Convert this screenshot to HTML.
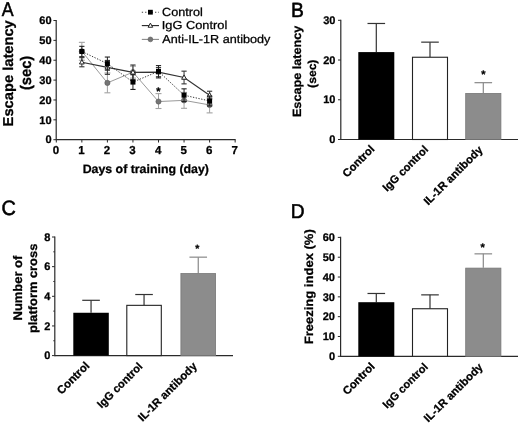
<!DOCTYPE html>
<html><head><meta charset="utf-8"><style>
html,body{margin:0;padding:0;background:#fff;}
svg{display:block;filter:blur(0.3px);}
text{font-family:"Liberation Sans", sans-serif;text-rendering:geometricPrecision;stroke:#000;stroke-width:0.28px;stroke-linejoin:round}
</style></head><body>
<svg width="520" height="424" viewBox="0 0 520 424">
<rect width="520" height="424" fill="#fff"/>
<text transform="translate(1.7,15.6) scale(0.8889,0.9964)" font-size="20" font-weight="normal" style="stroke-width:0.55px">A</text>
<text transform="translate(291.05,16.5) scale(0.9636,1.0255)" font-size="20" font-weight="normal" style="stroke-width:0.55px">B</text>
<text transform="translate(1.6,214.94) scale(0.9961,1.0386)" font-size="20" font-weight="normal" style="stroke-width:0.55px">C</text>
<text transform="translate(290.86,218.2) scale(0.9583,1.0036)" font-size="20" font-weight="normal" style="stroke-width:0.55px">D</text>
<text transform="translate(13.07,126.38) scale(0.9559,0.9795) rotate(-90)" font-size="15" font-weight="bold">Escape latency</text>
<text transform="translate(30.98,90.03) scale(1.0191,0.9791) rotate(-90)" font-size="15" font-weight="bold">(sec)</text>
<text transform="translate(82.63,172.69) scale(1.0296,1.0047)" font-size="12" font-weight="bold">Days of training (day)</text>
<text transform="translate(162.09,15.56) scale(1.0103,0.9474)" font-size="12.5" font-weight="normal">Control</text>
<text transform="translate(161.78,29.29) scale(1.0249,0.9275)" font-size="12.5" font-weight="normal">IgG Control</text>
<text transform="translate(162.3,42.79) scale(1.0103,0.9275)" font-size="12.5" font-weight="normal">Anti-IL-1R antibody</text>
<text transform="translate(300.82,117.09) scale(0.9955,1.0547) rotate(-90)" font-size="12" font-weight="bold">Escape latency</text>
<text transform="translate(316.01,87.91) scale(0.9586,1.0111) rotate(-90)" font-size="12" font-weight="bold">(sec)</text>
<text transform="translate(21.66,320.41) scale(1.0364,1.079) rotate(-90)" font-size="12" font-weight="bold">Number of</text>
<text transform="translate(37.09,333.1) scale(1.0047,1.0723) rotate(-90)" font-size="12" font-weight="bold">platform cross</text>
<text transform="translate(313.39,344.31) scale(1.0047,1.0854) rotate(-90)" font-size="12" font-weight="bold">Freezing index (%)</text>
<text transform="translate(347.07,177.89) scale(1.0153,1.0153) rotate(-45)" font-size="11" font-weight="bold">Control</text>
<text transform="translate(387.11,192.07) scale(1.0103,1.0103) rotate(-45)" font-size="11" font-weight="bold">IgG control</text>
<text transform="translate(428.14,205.73) scale(1.0224,1.0224) rotate(-45)" font-size="11" font-weight="bold">IL-1R antibody</text>
<text transform="translate(61.54,395.02) scale(1.0346,1.0346) rotate(-45)" font-size="11" font-weight="bold">Control</text>
<text transform="translate(101.54,408.82) scale(1.006,1.006) rotate(-45)" font-size="11" font-weight="bold">IgG control</text>
<text transform="translate(142.46,422.06) scale(1.0215,1.0215) rotate(-45)" font-size="11" font-weight="bold">IL-1R antibody</text>
<text transform="translate(347.14,395.55) scale(1.0217,1.0217) rotate(-45)" font-size="11" font-weight="bold">Control</text>
<text transform="translate(387.04,409.04) scale(1.0006,1.0006) rotate(-45)" font-size="11" font-weight="bold">IgG control</text>
<text transform="translate(428.37,422.78) scale(1.0189,1.0189) rotate(-45)" font-size="11" font-weight="bold">IL-1R antibody</text>
<line x1="56.20" y1="19.90" x2="56.20" y2="140.30" stroke="#2a2a2a" stroke-width="1.2" />
<line x1="53.40" y1="139.70" x2="56.20" y2="139.70" stroke="#2a2a2a" stroke-width="1.0" />
<text x="51.60" y="143.40" font-size="11" font-weight="bold" text-anchor="end" fill="#000">0</text>
<line x1="53.40" y1="119.83" x2="56.20" y2="119.83" stroke="#2a2a2a" stroke-width="1.0" />
<text x="51.60" y="123.53" font-size="11" font-weight="bold" text-anchor="end" fill="#000">10</text>
<line x1="53.40" y1="99.97" x2="56.20" y2="99.97" stroke="#2a2a2a" stroke-width="1.0" />
<text x="51.60" y="103.67" font-size="11" font-weight="bold" text-anchor="end" fill="#000">20</text>
<line x1="53.40" y1="80.10" x2="56.20" y2="80.10" stroke="#2a2a2a" stroke-width="1.0" />
<text x="51.60" y="83.80" font-size="11" font-weight="bold" text-anchor="end" fill="#000">30</text>
<line x1="53.40" y1="60.23" x2="56.20" y2="60.23" stroke="#2a2a2a" stroke-width="1.0" />
<text x="51.60" y="63.93" font-size="11" font-weight="bold" text-anchor="end" fill="#000">40</text>
<line x1="53.40" y1="40.37" x2="56.20" y2="40.37" stroke="#2a2a2a" stroke-width="1.0" />
<text x="51.60" y="44.07" font-size="11" font-weight="bold" text-anchor="end" fill="#000">50</text>
<line x1="53.40" y1="20.50" x2="56.20" y2="20.50" stroke="#2a2a2a" stroke-width="1.0" />
<text x="51.60" y="24.20" font-size="11" font-weight="bold" text-anchor="end" fill="#000">60</text>
<line x1="56.20" y1="139.70" x2="235.65" y2="139.70" stroke="#2a2a2a" stroke-width="1.2" />
<line x1="56.30" y1="139.70" x2="56.30" y2="142.50" stroke="#2a2a2a" stroke-width="1.0" />
<text x="55.90" y="154.10" font-size="11.5" font-weight="bold" text-anchor="middle" fill="#000">0</text>
<line x1="81.85" y1="139.70" x2="81.85" y2="142.50" stroke="#2a2a2a" stroke-width="1.0" />
<text x="81.45" y="154.10" font-size="11.5" font-weight="bold" text-anchor="middle" fill="#000">1</text>
<line x1="107.40" y1="139.70" x2="107.40" y2="142.50" stroke="#2a2a2a" stroke-width="1.0" />
<text x="107.00" y="154.10" font-size="11.5" font-weight="bold" text-anchor="middle" fill="#000">2</text>
<line x1="132.95" y1="139.70" x2="132.95" y2="142.50" stroke="#2a2a2a" stroke-width="1.0" />
<text x="132.55" y="154.10" font-size="11.5" font-weight="bold" text-anchor="middle" fill="#000">3</text>
<line x1="158.50" y1="139.70" x2="158.50" y2="142.50" stroke="#2a2a2a" stroke-width="1.0" />
<text x="158.10" y="154.10" font-size="11.5" font-weight="bold" text-anchor="middle" fill="#000">4</text>
<line x1="184.05" y1="139.70" x2="184.05" y2="142.50" stroke="#2a2a2a" stroke-width="1.0" />
<text x="183.65" y="154.10" font-size="11.5" font-weight="bold" text-anchor="middle" fill="#000">5</text>
<line x1="209.60" y1="139.70" x2="209.60" y2="142.50" stroke="#2a2a2a" stroke-width="1.0" />
<text x="209.20" y="154.10" font-size="11.5" font-weight="bold" text-anchor="middle" fill="#000">6</text>
<line x1="235.15" y1="139.70" x2="235.15" y2="142.50" stroke="#2a2a2a" stroke-width="1.0" />
<text x="234.75" y="154.10" font-size="11.5" font-weight="bold" text-anchor="middle" fill="#000">7</text>
<line x1="81.85" y1="42.35" x2="81.85" y2="60.23" stroke="#a2a2a2" stroke-width="1.0" />
<line x1="78.85" y1="42.35" x2="84.85" y2="42.35" stroke="#a2a2a2" stroke-width="1.1" />
<line x1="78.85" y1="60.23" x2="84.85" y2="60.23" stroke="#a2a2a2" stroke-width="1.1" />
<line x1="107.40" y1="72.95" x2="107.40" y2="92.81" stroke="#a2a2a2" stroke-width="1.0" />
<line x1="104.40" y1="72.95" x2="110.40" y2="72.95" stroke="#a2a2a2" stroke-width="1.1" />
<line x1="104.40" y1="92.81" x2="110.40" y2="92.81" stroke="#a2a2a2" stroke-width="1.1" />
<line x1="132.95" y1="66.19" x2="132.95" y2="78.11" stroke="#a2a2a2" stroke-width="1.0" />
<line x1="129.95" y1="66.19" x2="135.95" y2="66.19" stroke="#a2a2a2" stroke-width="1.1" />
<line x1="129.95" y1="78.11" x2="135.95" y2="78.11" stroke="#a2a2a2" stroke-width="1.1" />
<line x1="158.50" y1="93.61" x2="158.50" y2="108.51" stroke="#a2a2a2" stroke-width="1.0" />
<line x1="155.50" y1="93.61" x2="161.50" y2="93.61" stroke="#a2a2a2" stroke-width="1.1" />
<line x1="155.50" y1="108.51" x2="161.50" y2="108.51" stroke="#a2a2a2" stroke-width="1.1" />
<line x1="184.05" y1="92.42" x2="184.05" y2="108.31" stroke="#a2a2a2" stroke-width="1.0" />
<line x1="181.05" y1="92.42" x2="187.05" y2="92.42" stroke="#a2a2a2" stroke-width="1.1" />
<line x1="181.05" y1="108.31" x2="187.05" y2="108.31" stroke="#a2a2a2" stroke-width="1.1" />
<line x1="209.60" y1="97.98" x2="209.60" y2="112.88" stroke="#a2a2a2" stroke-width="1.0" />
<line x1="206.60" y1="97.98" x2="212.60" y2="97.98" stroke="#a2a2a2" stroke-width="1.1" />
<line x1="206.60" y1="112.88" x2="212.60" y2="112.88" stroke="#a2a2a2" stroke-width="1.1" />
<polyline points="81.85,51.29 107.40,82.88 132.95,72.15 158.50,101.56 184.05,100.36 209.60,104.93" fill="none" stroke="#9a9a9a" stroke-width="1.0" />
<circle cx="81.85" cy="51.29" r="2.6" fill="#757575" stroke="#5a5a5a" stroke-width="0.6"/>
<circle cx="107.40" cy="82.88" r="2.6" fill="#757575" stroke="#5a5a5a" stroke-width="0.6"/>
<circle cx="132.95" cy="72.15" r="2.6" fill="#757575" stroke="#5a5a5a" stroke-width="0.6"/>
<circle cx="158.50" cy="101.56" r="2.6" fill="#757575" stroke="#5a5a5a" stroke-width="0.6"/>
<circle cx="184.05" cy="100.36" r="2.6" fill="#757575" stroke="#5a5a5a" stroke-width="0.6"/>
<circle cx="209.60" cy="104.93" r="2.6" fill="#757575" stroke="#5a5a5a" stroke-width="0.6"/>
<line x1="81.85" y1="57.65" x2="81.85" y2="66.79" stroke="#333" stroke-width="1.0" />
<line x1="79.25" y1="57.65" x2="84.45" y2="57.65" stroke="#333" stroke-width="1.1" />
<line x1="79.25" y1="66.79" x2="84.45" y2="66.79" stroke="#333" stroke-width="1.1" />
<line x1="107.40" y1="60.43" x2="107.40" y2="74.34" stroke="#333" stroke-width="1.0" />
<line x1="104.80" y1="60.43" x2="110.00" y2="60.43" stroke="#333" stroke-width="1.1" />
<line x1="104.80" y1="74.34" x2="110.00" y2="74.34" stroke="#333" stroke-width="1.1" />
<line x1="132.95" y1="65.00" x2="132.95" y2="79.70" stroke="#333" stroke-width="1.0" />
<line x1="130.35" y1="65.00" x2="135.55" y2="65.00" stroke="#333" stroke-width="1.1" />
<line x1="130.35" y1="79.70" x2="135.55" y2="79.70" stroke="#333" stroke-width="1.1" />
<line x1="158.50" y1="67.58" x2="158.50" y2="76.72" stroke="#333" stroke-width="1.0" />
<line x1="155.90" y1="67.58" x2="161.10" y2="67.58" stroke="#333" stroke-width="1.1" />
<line x1="155.90" y1="76.72" x2="161.10" y2="76.72" stroke="#333" stroke-width="1.1" />
<line x1="184.05" y1="71.16" x2="184.05" y2="83.87" stroke="#333" stroke-width="1.0" />
<line x1="181.45" y1="71.16" x2="186.65" y2="71.16" stroke="#333" stroke-width="1.1" />
<line x1="181.45" y1="83.87" x2="186.65" y2="83.87" stroke="#333" stroke-width="1.1" />
<line x1="209.60" y1="91.23" x2="209.60" y2="99.17" stroke="#333" stroke-width="1.0" />
<line x1="207.00" y1="91.23" x2="212.20" y2="91.23" stroke="#333" stroke-width="1.1" />
<line x1="207.00" y1="99.17" x2="212.20" y2="99.17" stroke="#333" stroke-width="1.1" />
<polyline points="81.85,62.22 107.40,67.39 132.95,72.35 158.50,72.15 184.05,77.52 209.60,95.20" fill="none" stroke="#333" stroke-width="1.2" />
<polygon points="81.85,59.63 79.45,63.95 84.25,63.95" fill="#fff" stroke="#222" stroke-width="1"/>
<polygon points="107.40,64.79 105.00,69.11 109.80,69.11" fill="#fff" stroke="#222" stroke-width="1"/>
<polygon points="132.95,69.76 130.55,74.08 135.35,74.08" fill="#fff" stroke="#222" stroke-width="1"/>
<polygon points="158.50,69.56 156.10,73.88 160.90,73.88" fill="#fff" stroke="#222" stroke-width="1"/>
<polygon points="184.05,74.93 181.65,79.25 186.45,79.25" fill="#fff" stroke="#222" stroke-width="1"/>
<polygon points="209.60,92.61 207.20,96.93 212.00,96.93" fill="#fff" stroke="#222" stroke-width="1"/>
<line x1="81.85" y1="46.33" x2="81.85" y2="56.66" stroke="#222" stroke-width="1.0" />
<line x1="79.25" y1="46.33" x2="84.45" y2="46.33" stroke="#222" stroke-width="1.1" />
<line x1="79.25" y1="56.66" x2="84.45" y2="56.66" stroke="#222" stroke-width="1.1" />
<line x1="107.40" y1="57.05" x2="107.40" y2="70.17" stroke="#222" stroke-width="1.0" />
<line x1="104.80" y1="57.05" x2="110.00" y2="57.05" stroke="#222" stroke-width="1.1" />
<line x1="104.80" y1="70.17" x2="110.00" y2="70.17" stroke="#222" stroke-width="1.1" />
<line x1="132.95" y1="74.74" x2="132.95" y2="89.44" stroke="#222" stroke-width="1.0" />
<line x1="130.35" y1="74.74" x2="135.55" y2="74.74" stroke="#222" stroke-width="1.1" />
<line x1="130.35" y1="89.44" x2="135.55" y2="89.44" stroke="#222" stroke-width="1.1" />
<line x1="158.50" y1="65.60" x2="158.50" y2="77.91" stroke="#222" stroke-width="1.0" />
<line x1="155.90" y1="65.60" x2="161.10" y2="65.60" stroke="#222" stroke-width="1.1" />
<line x1="155.90" y1="77.91" x2="161.10" y2="77.91" stroke="#222" stroke-width="1.1" />
<line x1="184.05" y1="88.84" x2="184.05" y2="101.56" stroke="#222" stroke-width="1.0" />
<line x1="181.45" y1="88.84" x2="186.65" y2="88.84" stroke="#222" stroke-width="1.1" />
<line x1="181.45" y1="101.56" x2="186.65" y2="101.56" stroke="#222" stroke-width="1.1" />
<line x1="209.60" y1="95.99" x2="209.60" y2="105.93" stroke="#222" stroke-width="1.0" />
<line x1="207.00" y1="95.99" x2="212.20" y2="95.99" stroke="#222" stroke-width="1.1" />
<line x1="207.00" y1="105.93" x2="212.20" y2="105.93" stroke="#222" stroke-width="1.1" />
<polyline points="81.85,51.49 107.40,63.61 132.95,82.09 158.50,71.36 184.05,95.20 209.60,100.96" fill="none" stroke="#222" stroke-width="0.9" stroke-dasharray="1.3 1.5"/>
<rect x="79.35" y="48.99" width="5.0" height="5.0" fill="#000"/>
<rect x="104.90" y="61.11" width="5.0" height="5.0" fill="#000"/>
<rect x="130.45" y="79.59" width="5.0" height="5.0" fill="#000"/>
<rect x="156.00" y="68.86" width="5.0" height="5.0" fill="#000"/>
<rect x="181.55" y="92.70" width="5.0" height="5.0" fill="#000"/>
<rect x="207.10" y="98.46" width="5.0" height="5.0" fill="#000"/>
<text x="158.30" y="94.72" font-size="11" font-weight="bold" text-anchor="middle">*</text>
<line x1="141.80" y1="12.20" x2="159.00" y2="12.20" stroke="#444" stroke-width="1.1" stroke-dasharray="1.3 2.0"/>
<rect x="148.00" y="9.80" width="4.8" height="4.8" fill="#000"/>
<line x1="141.80" y1="25.60" x2="159.00" y2="25.60" stroke="#222" stroke-width="1.1" />
<polygon points="150.40,23.12 148.10,27.26 152.70,27.26" fill="#fff" stroke="#222" stroke-width="1"/>
<line x1="141.80" y1="39.40" x2="159.00" y2="39.40" stroke="#8a8a8a" stroke-width="1.1" />
<circle cx="150.40" cy="39.40" r="2.4" fill="#757575" stroke="#5a5a5a" stroke-width="0.6"/>
<line x1="340.80" y1="19.70" x2="340.80" y2="140.10" stroke="#2a2a2a" stroke-width="1.2" />
<line x1="340.80" y1="139.50" x2="518.00" y2="139.50" stroke="#2a2a2a" stroke-width="1.2" />
<line x1="338.00" y1="139.50" x2="340.80" y2="139.50" stroke="#2a2a2a" stroke-width="1.0" />
<text x="335.40" y="143.20" font-size="11" font-weight="bold" text-anchor="end" fill="#000">0</text>
<line x1="338.00" y1="99.77" x2="340.80" y2="99.77" stroke="#2a2a2a" stroke-width="1.0" />
<text x="335.40" y="103.47" font-size="11" font-weight="bold" text-anchor="end" fill="#000">10</text>
<line x1="338.00" y1="60.03" x2="340.80" y2="60.03" stroke="#2a2a2a" stroke-width="1.0" />
<text x="335.40" y="63.73" font-size="11" font-weight="bold" text-anchor="end" fill="#000">20</text>
<line x1="338.00" y1="20.30" x2="340.80" y2="20.30" stroke="#2a2a2a" stroke-width="1.0" />
<text x="335.40" y="24.00" font-size="11" font-weight="bold" text-anchor="end" fill="#000">30</text>
<line x1="376.30" y1="23.48" x2="376.30" y2="52.09" stroke="#333" stroke-width="1.2" />
<line x1="367.50" y1="23.48" x2="385.10" y2="23.48" stroke="#333" stroke-width="1.2" />
<rect x="358.30" y="52.09" width="36.00" height="87.41" fill="#000"/>
<line x1="430.00" y1="42.15" x2="430.00" y2="57.25" stroke="#333" stroke-width="1.2" />
<line x1="421.20" y1="42.15" x2="438.80" y2="42.15" stroke="#333" stroke-width="1.2" />
<rect x="412.50" y="57.25" width="35.00" height="82.25" fill="#fff" stroke="#222" stroke-width="1.1"/>
<line x1="483.30" y1="82.68" x2="483.30" y2="93.01" stroke="#888" stroke-width="1.2" />
<line x1="474.50" y1="82.68" x2="492.10" y2="82.68" stroke="#888" stroke-width="1.2" />
<rect x="465.70" y="93.41" width="35.20" height="46.09" fill="#8c8c8c" stroke="#777" stroke-width="0.8"/>
<text x="483.40" y="78.32" font-size="11" font-weight="bold" text-anchor="middle">*</text>
<line x1="54.80" y1="236.40" x2="54.80" y2="356.20" stroke="#2a2a2a" stroke-width="1.2" />
<line x1="54.80" y1="355.60" x2="233.00" y2="355.60" stroke="#2a2a2a" stroke-width="1.2" />
<line x1="52.00" y1="355.60" x2="54.80" y2="355.60" stroke="#2a2a2a" stroke-width="1.0" />
<text x="50.30" y="359.30" font-size="11" font-weight="bold" text-anchor="end" fill="#000">0</text>
<line x1="52.00" y1="325.95" x2="54.80" y2="325.95" stroke="#2a2a2a" stroke-width="1.0" />
<text x="50.30" y="329.65" font-size="11" font-weight="bold" text-anchor="end" fill="#000">2</text>
<line x1="52.00" y1="296.30" x2="54.80" y2="296.30" stroke="#2a2a2a" stroke-width="1.0" />
<text x="50.30" y="300.00" font-size="11" font-weight="bold" text-anchor="end" fill="#000">4</text>
<line x1="52.00" y1="266.65" x2="54.80" y2="266.65" stroke="#2a2a2a" stroke-width="1.0" />
<text x="50.30" y="270.35" font-size="11" font-weight="bold" text-anchor="end" fill="#000">6</text>
<line x1="52.00" y1="237.00" x2="54.80" y2="237.00" stroke="#2a2a2a" stroke-width="1.0" />
<text x="50.30" y="240.70" font-size="11" font-weight="bold" text-anchor="end" fill="#000">8</text>
<line x1="53.30" y1="340.78" x2="54.80" y2="340.78" stroke="#2a2a2a" stroke-width="1.0" />
<line x1="53.30" y1="311.12" x2="54.80" y2="311.12" stroke="#2a2a2a" stroke-width="1.0" />
<line x1="53.30" y1="281.48" x2="54.80" y2="281.48" stroke="#2a2a2a" stroke-width="1.0" />
<line x1="53.30" y1="251.82" x2="54.80" y2="251.82" stroke="#2a2a2a" stroke-width="1.0" />
<line x1="91.05" y1="300.30" x2="91.05" y2="312.76" stroke="#333" stroke-width="1.2" />
<line x1="82.25" y1="300.30" x2="99.85" y2="300.30" stroke="#333" stroke-width="1.2" />
<rect x="73.30" y="312.76" width="35.50" height="42.84" fill="#000"/>
<line x1="144.05" y1="294.52" x2="144.05" y2="305.34" stroke="#333" stroke-width="1.2" />
<line x1="135.25" y1="294.52" x2="152.85" y2="294.52" stroke="#333" stroke-width="1.2" />
<rect x="126.80" y="305.34" width="34.50" height="50.26" fill="#fff" stroke="#222" stroke-width="1.1"/>
<line x1="198.25" y1="257.16" x2="198.25" y2="273.17" stroke="#888" stroke-width="1.2" />
<line x1="189.45" y1="257.16" x2="207.05" y2="257.16" stroke="#888" stroke-width="1.2" />
<rect x="180.90" y="273.57" width="34.70" height="82.03" fill="#8c8c8c" stroke="#777" stroke-width="0.8"/>
<text x="197.30" y="252.37" font-size="10.5" font-weight="bold" text-anchor="middle">*</text>
<line x1="340.60" y1="236.80" x2="340.60" y2="356.90" stroke="#2a2a2a" stroke-width="1.2" />
<line x1="340.60" y1="356.30" x2="518.00" y2="356.30" stroke="#2a2a2a" stroke-width="1.2" />
<line x1="337.80" y1="356.30" x2="340.60" y2="356.30" stroke="#2a2a2a" stroke-width="1.0" />
<text x="335.00" y="360.00" font-size="11" font-weight="bold" text-anchor="end" fill="#000">0</text>
<line x1="337.80" y1="336.48" x2="340.60" y2="336.48" stroke="#2a2a2a" stroke-width="1.0" />
<text x="335.00" y="340.18" font-size="11" font-weight="bold" text-anchor="end" fill="#000">10</text>
<line x1="337.80" y1="316.67" x2="340.60" y2="316.67" stroke="#2a2a2a" stroke-width="1.0" />
<text x="335.00" y="320.37" font-size="11" font-weight="bold" text-anchor="end" fill="#000">20</text>
<line x1="337.80" y1="296.85" x2="340.60" y2="296.85" stroke="#2a2a2a" stroke-width="1.0" />
<text x="335.00" y="300.55" font-size="11" font-weight="bold" text-anchor="end" fill="#000">30</text>
<line x1="337.80" y1="277.03" x2="340.60" y2="277.03" stroke="#2a2a2a" stroke-width="1.0" />
<text x="335.00" y="280.73" font-size="11" font-weight="bold" text-anchor="end" fill="#000">40</text>
<line x1="337.80" y1="257.22" x2="340.60" y2="257.22" stroke="#2a2a2a" stroke-width="1.0" />
<text x="335.00" y="260.92" font-size="11" font-weight="bold" text-anchor="end" fill="#000">50</text>
<line x1="337.80" y1="237.40" x2="340.60" y2="237.40" stroke="#2a2a2a" stroke-width="1.0" />
<text x="335.00" y="241.10" font-size="11" font-weight="bold" text-anchor="end" fill="#000">60</text>
<line x1="376.30" y1="293.48" x2="376.30" y2="302.20" stroke="#333" stroke-width="1.2" />
<line x1="367.50" y1="293.48" x2="385.10" y2="293.48" stroke="#333" stroke-width="1.2" />
<rect x="358.30" y="302.20" width="36.00" height="54.10" fill="#000"/>
<line x1="430.00" y1="294.87" x2="430.00" y2="308.74" stroke="#333" stroke-width="1.2" />
<line x1="421.20" y1="294.87" x2="438.80" y2="294.87" stroke="#333" stroke-width="1.2" />
<rect x="412.50" y="308.74" width="35.00" height="47.56" fill="#fff" stroke="#222" stroke-width="1.1"/>
<line x1="483.30" y1="253.85" x2="483.30" y2="267.72" stroke="#888" stroke-width="1.2" />
<line x1="474.50" y1="253.85" x2="492.10" y2="253.85" stroke="#888" stroke-width="1.2" />
<rect x="465.70" y="268.12" width="35.20" height="88.18" fill="#8c8c8c" stroke="#777" stroke-width="0.8"/>
<text x="482.60" y="251.42" font-size="11" font-weight="bold" text-anchor="middle">*</text>
</svg>
</body></html>
